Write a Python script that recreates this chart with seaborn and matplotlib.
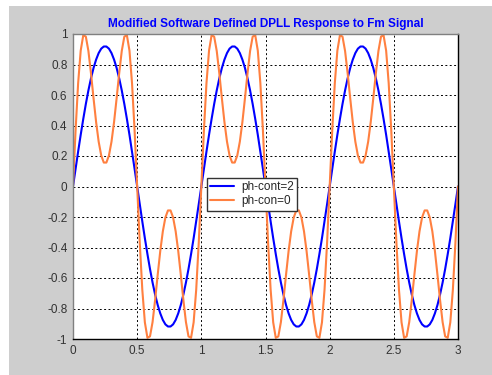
import numpy as np
import pandas as pd
import seaborn as sns
import matplotlib.pyplot as plt
from matplotlib.patches import Rectangle

# time axis, 0 to 3 in steps of 0.02
t = np.linspace(0, 3, 151)

# ph-cont=2 (blue)
ph_cont_2 = [
    0.000, 0.115, 0.229, 0.339, 0.443, 0.541, 0.630, 0.709, 0.777, 0.832,
    0.875, 0.904, 0.918, 0.918, 0.904, 0.875, 0.832, 0.777, 0.709, 0.630,
    0.541, 0.443, 0.339, 0.229, 0.115,
    0.000, -0.115, -0.229, -0.339, -0.443, -0.541, -0.630, -0.709, -0.777, -0.832,
    -0.875, -0.904, -0.918, -0.918, -0.904, -0.875, -0.832, -0.777, -0.709, -0.630,
    -0.541, -0.443, -0.339, -0.229, -0.115,
    0.000, 0.115, 0.229, 0.339, 0.443, 0.541, 0.630, 0.709, 0.777, 0.832,
    0.875, 0.904, 0.918, 0.918, 0.904, 0.875, 0.832, 0.777, 0.709, 0.630,
    0.541, 0.443, 0.339, 0.229, 0.115,
    0.000, -0.115, -0.229, -0.339, -0.443, -0.541, -0.630, -0.709, -0.777, -0.832,
    -0.875, -0.904, -0.918, -0.918, -0.904, -0.875, -0.832, -0.777, -0.709, -0.630,
    -0.541, -0.443, -0.339, -0.229, -0.115,
    0.000, 0.115, 0.229, 0.339, 0.443, 0.541, 0.630, 0.709, 0.777, 0.832,
    0.875, 0.904, 0.918, 0.918, 0.904, 0.875, 0.832, 0.777, 0.709, 0.630,
    0.541, 0.443, 0.339, 0.229, 0.115,
    0.000, -0.115, -0.229, -0.339, -0.443, -0.541, -0.630, -0.709, -0.777, -0.832,
    -0.875, -0.904, -0.918, -0.918, -0.904, -0.875, -0.832, -0.777, -0.709, -0.630,
    -0.541, -0.443, -0.339, -0.229, -0.115,
    0.000,
]

# ph-con=0 (orange)
ph_con_0 = [
    0.000, 0.366, 0.677, 0.891, 0.992, 0.983, 0.889, 0.743, 0.579, 0.423,
    0.294, 0.203, 0.157, 0.157, 0.203, 0.294, 0.423, 0.579, 0.743, 0.889,
    0.983, 0.992, 0.891, 0.677, 0.366,
    0.000, -0.366, -0.677, -0.891, -0.992, -0.983, -0.889, -0.743, -0.579, -0.423,
    -0.294, -0.203, -0.157, -0.157, -0.203, -0.294, -0.423, -0.579, -0.743, -0.889,
    -0.983, -0.992, -0.891, -0.677, -0.366,
    0.000, 0.366, 0.677, 0.891, 0.992, 0.983, 0.889, 0.743, 0.579, 0.423,
    0.294, 0.203, 0.157, 0.157, 0.203, 0.294, 0.423, 0.579, 0.743, 0.889,
    0.983, 0.992, 0.891, 0.677, 0.366,
    0.000, -0.366, -0.677, -0.891, -0.992, -0.983, -0.889, -0.743, -0.579, -0.423,
    -0.294, -0.203, -0.157, -0.157, -0.203, -0.294, -0.423, -0.579, -0.743, -0.889,
    -0.983, -0.992, -0.891, -0.677, -0.366,
    0.000, 0.366, 0.677, 0.891, 0.992, 0.983, 0.889, 0.743, 0.579, 0.423,
    0.294, 0.203, 0.157, 0.157, 0.203, 0.294, 0.423, 0.579, 0.743, 0.889,
    0.983, 0.992, 0.891, 0.677, 0.366,
    0.000, -0.366, -0.677, -0.891, -0.992, -0.983, -0.889, -0.743, -0.579, -0.423,
    -0.294, -0.203, -0.157, -0.157, -0.203, -0.294, -0.423, -0.579, -0.743, -0.889,
    -0.983, -0.992, -0.891, -0.677, -0.366,
    0.000,
]

x_ticks = [0, 0.5, 1, 1.5, 2, 2.5, 3]
x_labels = ['0', '0.5', '1', '1.5', '2', '2.5', '3']
y_ticks = [-1, -0.8, -0.6, -0.4, -0.2, 0, 0.2, 0.4, 0.6, 0.8, 1]
y_labels = ['-1', '-0.8', '-0.6', '-0.4', '-0.2', '0', '0.2', '0.4', '0.6', '0.8', '1']

sns.set_style('white')
plt.rcParams['font.family'] = ['Liberation Sans', 'DejaVu Sans']

fig = plt.figure(figsize=(4.92, 3.75), dpi=100, facecolor='white')
# grey figure panel, leaves a thin white strip on the left and top
fig.patches.append(Rectangle((9 / 492, 0), 1, 1 - 6 / 375, transform=fig.transFigure,
                             facecolor='#cecece', edgecolor='none', zorder=-10))
ax = fig.add_axes([73 / 492, 36 / 375, 385 / 492, 305 / 375])
ax.set_zorder(1)
ax.set_facecolor('white')

df = pd.DataFrame({'t': t, 'ph-cont=2': ph_cont_2, 'ph-con=0': ph_con_0})
sns.lineplot(data=df, x='t', y='ph-cont=2', color='#0000ff', lw=1.5, label='ph-cont=2', ax=ax)
sns.lineplot(data=df, x='t', y='ph-con=0', color='#ff8040', lw=1.5, label='ph-con=0', ax=ax)

ax.set_xlim(0, 3)
ax.set_ylim(-1, 1)
ax.set_xticks(x_ticks)
ax.set_xticklabels(x_labels)
ax.set_yticks(y_ticks)
ax.set_yticklabels(y_labels)
ax.set_xlabel('')
ax.set_ylabel('')
ax.grid(True, color='black', linestyle=(0, (2, 2.5)), linewidth=0.7)
ax.set_axisbelow(True)
ax.tick_params(direction='in', length=3, labelsize=8.5, labelcolor='#333333', pad=4)

for side in ['left', 'top']:
    ax.spines[side].set_color('#808080')
for side in ['right', 'bottom']:
    ax.spines[side].set_color('black')
for s in ax.spines.values():
    s.set_linewidth(1)
    s.set_visible(True)

ax.set_title('Modified Software Defined DPLL Response to Fm Signal', color='#0000ff',
             fontsize=8.5, fontweight='bold', pad=5)

ax.legend(loc='center', bbox_to_anchor=(0.465, 0.475), fontsize=8.5, frameon=True,
          fancybox=False, edgecolor='#333333', framealpha=1, borderpad=0.3,
          labelspacing=0.15, handlelength=2, handletextpad=0.6, borderaxespad=0)

fig.savefig('out.png', dpi=100)
plt.close()
